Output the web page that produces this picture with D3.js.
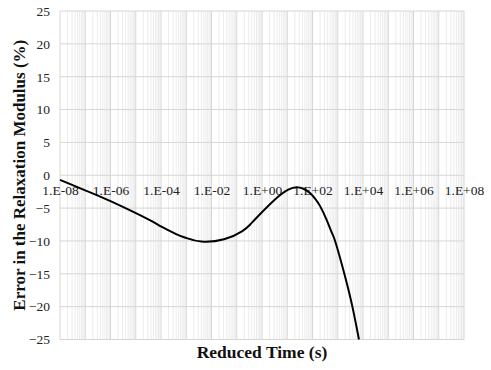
<!DOCTYPE html>
<html>
<head>
<meta charset="utf-8">
<script src="https://cdn.jsdelivr.net/npm/d3@7"></script>
<style>
  html, body { margin: 0; padding: 0; background: #fff; }
  svg { display: block; }
  text { font-family: "Liberation Serif", "Times New Roman", serif; }
</style>
</head>
<body>
<svg id="chart" width="491" height="370"></svg>
<script>
// Reduced time (s) and error in the relaxation modulus (%)
const times = [1e-8, 1e-7, 1e-6, 3.16e-5, 1e-4, 3.98e-4, 1e-3, 3.98e-3, 0.0313, 0.161, 0.335, 0.695, 3.27, 11.0, 23.2, 43.7, 79.4, 126, 200, 363, 575, 832, 1950, 3800, 6920];
const errors = [-0.7, -2.3, -3.95, -6.72, -7.8, -8.95, -9.55, -10.1, -9.75, -8.53, -7.53, -6.24, -3.68, -2.2, -1.83, -2.06, -2.7, -3.55, -4.7, -6.8, -8.7, -10.3, -15.4, -20.0, -25.0];
const xTickValues = [1e-8, 1e-6, 1e-4, 1e-2, 1e0, 1e2, 1e4, 1e6, 1e8];
const xTickLabels = ["1.E-08", "1.E-06", "1.E-04", "1.E-02", "1.E+00", "1.E+02", "1.E+04", "1.E+06", "1.E+08"];
const yTickValues = [25, 20, 15, 10, 5, 0, -5, -10, -15, -20, -25];
const xTitle = "Reduced Time (s)";
const yTitle = "Error in the Relaxation Modulus (%)";

const svg = d3.select("#chart");
const L = 60, R = 464, T = 11, B = 339.5;

const x = d3.scaleLog().domain([1e-8, 1e8]).range([L, R]);
const y = d3.scaleLinear().domain([-25, 25]).range([B, T]);

// minor vertical grid
const minor = [];
for (let d = -8; d < 8; d++) {
  for (let k = 2; k <= 9; k++) minor.push(k * Math.pow(10, d));
}
svg.append("g").selectAll("line").data(minor).join("line")
  .attr("x1", d => x(d)).attr("x2", d => x(d))
  .attr("y1", T).attr("y2", B)
  .attr("stroke", "#ececec").attr("stroke-width", 1);

// major vertical grid (decades)
const decades = d3.range(-8, 9).map(e => Math.pow(10, e));
svg.append("g").selectAll("line").data(decades).join("line")
  .attr("x1", d => x(d)).attr("x2", d => x(d))
  .attr("y1", T).attr("y2", B)
  .attr("stroke", "#d6d6d6").attr("stroke-width", 1);

// horizontal grid
svg.append("g").selectAll("line").data(yTickValues).join("line")
  .attr("x1", L).attr("x2", R)
  .attr("y1", d => y(d)).attr("y2", d => y(d))
  .attr("stroke", "#d6d6d6").attr("stroke-width", 1);

// y axis labels
const yAxis = d3.axisLeft(y).tickValues(yTickValues).tickSize(0).tickPadding(10).tickFormat(d3.format("d"));
const gy = svg.append("g").attr("transform", `translate(${L},0)`).call(yAxis);
gy.select(".domain").remove();
gy.selectAll("text").attr("font-size", 13.5).attr("fill", "#222")
  .style("font-family", '"Liberation Serif", "Times New Roman", serif');

// x axis labels at y = 0
const xAxis = d3.axisBottom(x).tickValues(xTickValues).tickSize(0).tickPadding(10)
  .tickFormat((d, i) => xTickLabels[i]);
const gx = svg.append("g").attr("transform", `translate(0,${y(0)})`).call(xAxis);
gx.select(".domain").remove();
gx.selectAll("text").attr("font-size", 13.5).attr("fill", "#222")
  .style("font-family", '"Liberation Serif", "Times New Roman", serif');

// curve
const line = d3.line()
  .x((d, i) => x(times[i]))
  .y((d, i) => y(errors[i]))
  .curve(d3.curveNatural);
svg.append("path")
  .datum(errors)
  .attr("d", line)
  .attr("fill", "none")
  .attr("stroke", "#000")
  .attr("stroke-width", 2);

// titles
svg.append("text")
  .attr("x", (L + R) / 2).attr("y", 358)
  .attr("text-anchor", "middle")
  .attr("font-size", 17.5).attr("font-weight", "bold").attr("fill", "#111")
  .text(xTitle);

svg.append("text")
  .attr("transform", `translate(25,${(T + B) / 2}) rotate(-90)`)
  .attr("text-anchor", "middle")
  .attr("font-size", 17).attr("font-weight", "bold").attr("fill", "#111")
  .text(yTitle);
</script>
</body>
</html>
